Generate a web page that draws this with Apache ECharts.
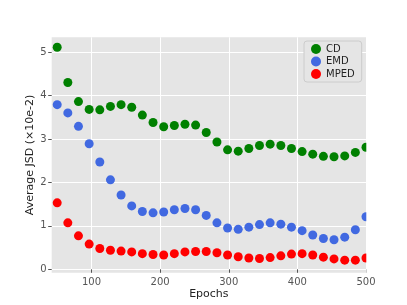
<!DOCTYPE html>
<html>
<head>
<meta charset="utf-8">
<script src="https://cdn.jsdelivr.net/npm/echarts@6/dist/echarts.min.js"></script>
<style>html,body{margin:0;padding:0;background:#fff}#c{width:407px;height:305px}</style>
</head>
<body>
<div id="c"></div>
<script>
const epochs = [50, 65.5, 81.0, 96.6, 112.1, 127.6, 143.1, 158.6, 174.1, 189.7, 205.2, 220.7, 236.2, 251.7, 267.2, 282.8, 298.3, 313.8, 329.3, 344.8, 360.3, 375.9, 391.4, 406.9, 422.4, 437.9, 453.4, 469.0, 484.5, 500];
const cd = [5.11, 4.30, 3.86, 3.68, 3.67, 3.75, 3.79, 3.73, 3.55, 3.38, 3.28, 3.31, 3.34, 3.32, 3.15, 2.93, 2.75, 2.72, 2.78, 2.85, 2.88, 2.85, 2.78, 2.71, 2.65, 2.60, 2.59, 2.61, 2.69, 2.81];
const emd = [3.79, 3.60, 3.29, 2.89, 2.47, 2.06, 1.71, 1.46, 1.33, 1.30, 1.32, 1.37, 1.40, 1.37, 1.24, 1.07, 0.95, 0.92, 0.97, 1.03, 1.07, 1.04, 0.97, 0.89, 0.79, 0.71, 0.68, 0.74, 0.91, 1.21];
const mped = [1.53, 1.07, 0.77, 0.58, 0.48, 0.44, 0.42, 0.40, 0.36, 0.34, 0.33, 0.36, 0.40, 0.41, 0.41, 0.38, 0.33, 0.29, 0.26, 0.25, 0.27, 0.31, 0.35, 0.36, 0.33, 0.28, 0.24, 0.21, 0.21, 0.26];
const xTicks = [100, 200, 300, 400, 500];
const yTicks = [0, 1, 2, 3, 4, 5];

const pairs = ys => epochs.map((x, i) => [x, ys[i]]);
const font = 'DejaVu Sans';
const chart = echarts.init(document.getElementById('c'), null, {renderer: 'canvas'});
const mk = (name, data, color) => ({
  name, type: 'scatter', data: pairs(data), symbolSize: 9,
  itemStyle: {color, opacity: 1}, clip: false, z: 2
});
chart.setOption({
  animation: false,
  backgroundColor: '#ffffff',
  grid: {left: 51.7, right: 41, top: 37.3, bottom: 32.3, show: true, backgroundColor: '#e5e5e5', borderWidth: 0},
  xAxis: {
    type: 'value', min: 42, max: 500,
    name: 'Epochs', nameLocation: 'middle', nameGap: 16, nameMoveOverlap: false,
    nameTextStyle: {fontFamily: font, fontSize: 11, color: '#222'},
    axisLine: {show: false},
    axisTick: {show: true, length: 3.5, lineStyle: {color: '#555'}, customValues: xTicks},
    axisLabel: {fontFamily: font, fontSize: 10, color: '#555', margin: 5, customValues: xTicks},
    splitLine: {show: true, lineStyle: {color: '#ffffff', width: 1}}
  },
  yAxis: {
    type: 'value', min: -0.078, max: 5.34,
    name: 'Average JSD (×10e-2)', nameLocation: 'middle', nameGap: 16, nameMoveOverlap: false,
    nameTextStyle: {fontFamily: font, fontSize: 11, color: '#222'},
    axisLine: {show: false},
    axisTick: {show: true, length: 3.5, lineStyle: {color: '#555'}, customValues: yTicks},
    axisLabel: {fontFamily: font, fontSize: 10, color: '#555', margin: 5, customValues: yTicks},
    splitLine: {show: true, lineStyle: {color: '#ffffff', width: 1}}
  },
  legend: {
    orient: 'vertical', left: 304, top: 41,
    data: ['CD', 'EMD', 'MPED'],
    icon: 'circle', itemWidth: 10, itemHeight: 10, itemGap: 2.5,
    backgroundColor: '#e5e5e5', borderColor: '#cccccc', borderWidth: 1, borderRadius: 3,
    padding: [3, 7, 3, 7],
    textStyle: {fontFamily: font, fontSize: 10, color: '#222'}
  },
  graphic: [{
    type: 'rect', left: 366.3, top: 36, z: 100,
    shape: {width: 42, height: 238},
    style: {fill: '#ffffff'}
  }],
  series: [mk('CD', cd, '#008000'), mk('EMD', emd, '#4169e1'), mk('MPED', mped, '#ff0000')]
});
</script>
</body>
</html>
